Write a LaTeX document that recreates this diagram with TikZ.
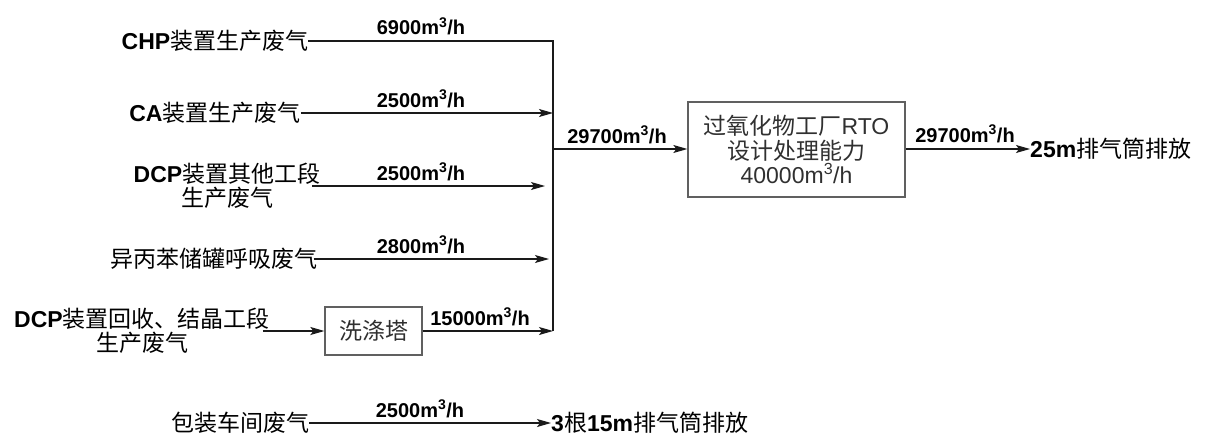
\documentclass[tikz,border=0pt]{standalone}
\usepackage{fontspec}
\setmainfont{Liberation Sans}
\newfontfamily\cjk{Noto Sans CJK SC}
\usetikzlibrary{arrows.meta}
\definecolor{boxgray}{HTML}{606060}
\definecolor{textgray}{HTML}{303030}
\definecolor{linecol}{HTML}{1A1A1A}
\newcommand{\zhs}[1]{{\cjk #1}}
\newcommand{\flowrate}[1]{#1m\textsuperscript{3}/h}
\begin{document}
\begin{tikzpicture}[x=1pt,y=-1pt,
  lbl/.style={inner sep=0pt, align=center, font=\fontsize{23}{23.5}\selectfont},
  rate/.style={inner sep=0pt, anchor=base, font=\fontsize{20}{20}\selectfont\bfseries},
  unit/.style={draw=boxgray, line width=1.3pt, text=textgray, align=center, inner sep=0pt,
               font=\fontsize{23}{24.5}\selectfont},
  flow/.style={draw=linecol, line width=1.2pt},
  arr/.style={flow, -{Stealth[length=14pt,width=8pt,inset=3pt]}}]
\useasboundingbox (0,0) rectangle (1206,436);

% source labels
\node[lbl] (chp)  at (215,41)  {\textbf{CHP}\zhs{装置生产废气}};
\node[lbl] (ca)   at (215,113) {\textbf{CA}\zhs{装置生产废气}};
\node[lbl] (dcpo) at (227,186) {\textbf{DCP}\zhs{装置其他工段}\\\zhs{生产废气}};
\node[lbl] (ipb)  at (214,259) {\zhs{异丙苯储罐呼吸废气}};
\node[lbl] (dcpr) at (142,331) {\textbf{DCP}\zhs{装置回收、结晶工段}\\\zhs{生产废气}};
\node[lbl] (pack) at (240,423) {\zhs{包装车间废气}};

% units
\node[unit, minimum width=97pt, minimum height=48pt] (wash) at (373.5,331) {\zhs{洗涤塔}};
\node[unit, minimum width=217pt, minimum height=95pt] (rto) at (796.5,149.5)
  {\zhs{过氧化物工厂}RTO\\\zhs{设计处理能力}\\\flowrate{40000}};

% destinations
\node[lbl, anchor=west] (stack)  at (1030,149) {\textbf{25m}\zhs{排气筒排放}};
\node[lbl, anchor=west] (stack3) at (551,423) {\textbf{3}\zhs{根}\textbf{15m}\zhs{排气筒排放}};

% collector bus
\coordinate (bt) at (553,41);
\coordinate (bb) at (553,331);
\coordinate (bj) at (553,149);

\draw[flow] (chp.east) -- (bt) -- (bb);
\draw[arr] (ca.east) -- (ca.east -| bt);
\draw[arr] ([xshift=-8pt]dcpo.east) -- ([xshift=-8pt]dcpo.east -| bt);
\draw[arr] ([xshift=-4pt]ipb.east) -- ([xshift=-4pt]ipb.east -| bt);
\draw[arr] ([xshift=-7pt]dcpr.east) -- (wash.west);
\draw[arr] (wash.east) -- (wash.east -| bt);
\draw[arr] (bj) -- (bj -| rto.west);
\draw[arr] (rto.east |- bj) -- (stack.west |- bj);
\draw[arr] (pack.east) -- (stack3.west);

% flow rates
\node[rate] (r1) at (421,35)  {\flowrate{6900}};
\node[rate] (r2) at (421,107) {\flowrate{2500}};
\node[rate] (r3) at (421,180) {\flowrate{2500}};
\node[rate] (r4) at (421,253) {\flowrate{2800}};
\node[rate] (r5) at (480,325) {\flowrate{15000}};
\node[rate] (r6) at (617,143) {\flowrate{29700}};
\node[rate] (r7) at (965,142) {\flowrate{29700}};
\node[rate] (r8) at (420,417) {\flowrate{2500}};
\end{tikzpicture}
\end{document}
